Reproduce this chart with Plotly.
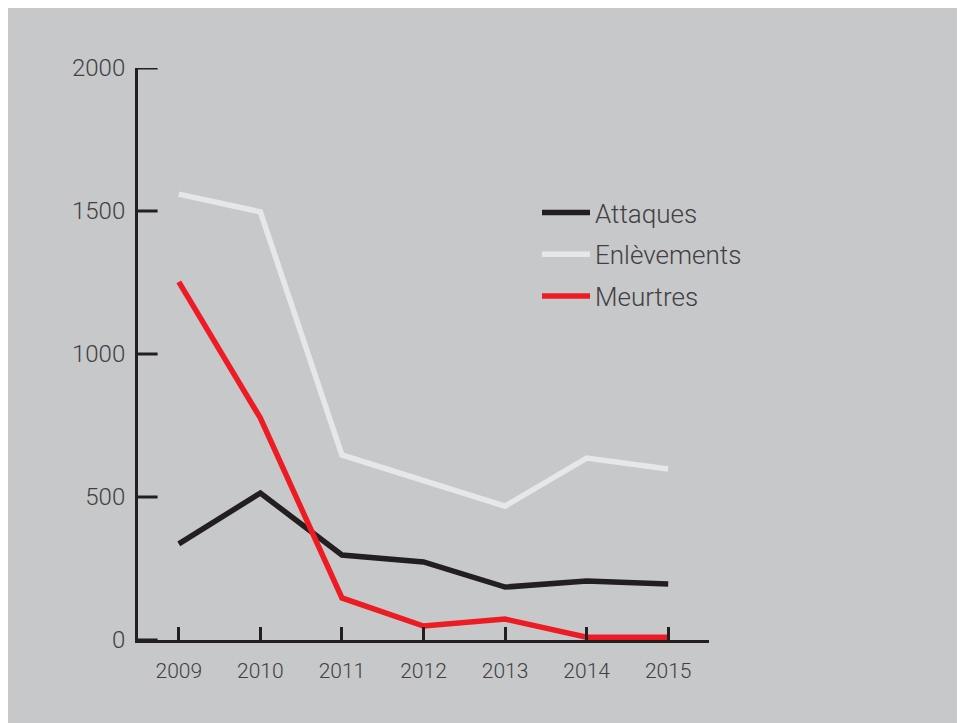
import plotly.graph_objects as go

years = [2009, 2010, 2011, 2012, 2013, 2014, 2015]
attaques = [336, 514, 297, 273, 185, 206, 196]
enlevements = [1559, 1497, 647, 559, 468, 636, 598]
meurtres = [1252, 776, 147, 49, 73, 10, 10]

names = ["Attaques", "Enlèvements", "Meurtres"]
colors = ["#231f20", "#e6e7e8", "#ed1c24"]
series = [attaques, enlevements, meurtres]
ytickvals = [0, 500, 1000, 1500, 2000]
xrange_ = [2008.5, 2015.5]
yrange_ = [0, 2000]

W, H = 965, 723
L, T = 130, 60
pw, ph = 571, 572
R, B = W - L - pw, H - T - ph
dark = "#231f20"

fig = go.Figure()
for n, c, s in zip(names, colors, series):
    fig.add_trace(go.Scatter(x=years, y=s, name=n, mode="lines", legendgroup=n,
                             line=dict(color=c, width=5.5)))
# y-axis inside tick marks: a line marker centred on the axis, its outer half clipped
fig.add_trace(go.Scatter(x=[xrange_[0]] * len(ytickvals), y=ytickvals, mode="markers",
                         marker=dict(symbol="line-ew", size=28,
                                     line=dict(width=3, color=dark)),
                         cliponaxis=True, showlegend=False, hoverinfo="skip"))

gray = "#c7c8ca"
font = "Roboto, 'Noto Sans', sans-serif"
txt = "#414042"
fig.update_layout(
    width=W, height=H,
    margin=dict(l=L, r=R, t=T, b=B, pad=0),
    paper_bgcolor=gray, plot_bgcolor=gray,
    font=dict(family=font, color=txt, size=21, weight=300),
    showlegend=True,
    legend=dict(x=(529 - L) / pw, y=1 - (181 - T) / ph, xanchor="left", yanchor="top",
                bgcolor="rgba(0,0,0,0)", font=dict(size=26, color=txt, weight=300),
                traceorder="grouped", tracegroupgap=5, itemwidth=48),
    xaxis=dict(range=xrange_, tickvals=years, ticktext=[str(y) for y in years],
               showgrid=False, zeroline=False, showline=True, linecolor=dark, linewidth=3,
               ticks="inside", ticklen=13, tickwidth=2.5, tickcolor=dark,
               tickfont=dict(size=21, color=txt, weight=300),
               ticklabelstandoff=10, fixedrange=True, layer="above traces"),
    yaxis=dict(range=yrange_, tickvals=ytickvals,
               ticktext=[str(v) for v in ytickvals],
               showgrid=False, zeroline=False, showline=True, linecolor=dark, linewidth=3,
               ticks="", tickfont=dict(size=24, color=txt, weight=300),
               ticklabelstandoff=5, fixedrange=True),
)
fig.write_html("out.html")
